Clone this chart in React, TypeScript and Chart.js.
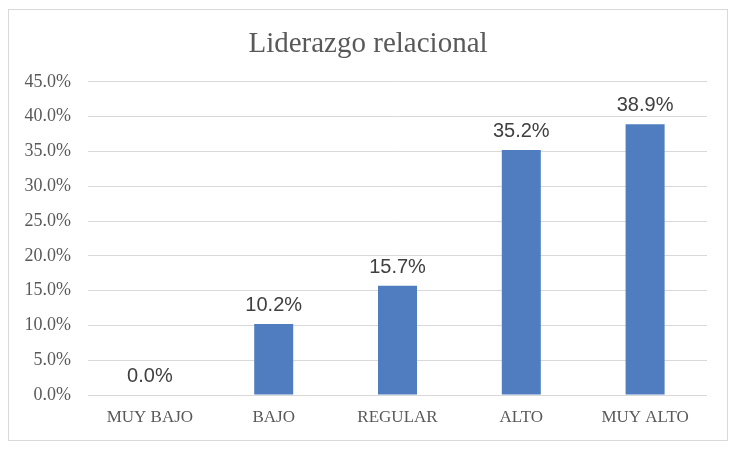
import React, { useEffect, useRef } from "react";
import { Chart, registerables } from "chart.js";

Chart.register(...registerables);

const categories = ["MUY BAJO", "BAJO", "REGULAR", "ALTO", "MUY ALTO"];
const values = [0.0, 10.2, 15.7, 35.2, 38.9];
const yMax = 45;
const yStep = 5;
const titleText = "Liderazgo relacional";

const dataLabelPlugin = {
  id: "dataLabels",
  afterDatasetsDraw(chart: any) {
    const ctx = chart.ctx;
    const meta = chart.getDatasetMeta(0);
    ctx.save();
    ctx.font = "20px 'Liberation Sans'";
    ctx.fillStyle = "#404040";
    ctx.textAlign = "center";
    ctx.textBaseline = "alphabetic";
    meta.data.forEach((bar: any, i: number) => {
      const v = chart.data.datasets[0].data[i] as number;
      ctx.fillText(v.toFixed(1) + "%", bar.x, bar.y - 13);
    });
    ctx.restore();
  },
};

export default function App() {
  const ref = useRef<HTMLCanvasElement | null>(null);
  useEffect(() => {
    if (!ref.current) return;
    const chart = new Chart(ref.current, {
      type: "bar",
      data: {
        labels: categories,
        datasets: [
          {
            data: values,
            backgroundColor: "#4f7dc0",
            borderWidth: 0,
            categoryPercentage: 1,
            barPercentage: 0.315,
          },
        ],
      },
      options: {
        animation: false,
        responsive: true,
        maintainAspectRatio: false,
        layout: { padding: 0 },
        plugins: {
          legend: { display: false },
          tooltip: { enabled: false },
          title: {
            display: true,
            text: titleText,
            color: "#595959",
            font: { family: "'Liberation Serif'", size: 29, weight: "normal" },
            padding: { top: 17, bottom: 20 },
          },
        },
        scales: {
          x: {
            grid: { display: false, drawTicks: false },
            border: { display: false },
            ticks: {
              color: "#595959",
              font: { family: "'Liberation Serif'", size: 17 },
              padding: 12,
              maxRotation: 0,
            },
            afterFit(scale: any) {
              scale.height = 45;
            },
          },
          y: {
            min: 0,
            max: yMax,
            grid: { color: "#d9d9d9", lineWidth: 1, drawTicks: false },
            border: { display: false },
            ticks: {
              stepSize: yStep,
              color: "#595959",
              font: { family: "'Liberation Serif'", size: 18 },
              padding: 17,
              callback: (v: any) => Number(v).toFixed(1) + "%",
            },
            afterFit(scale: any) {
              scale.width = 79;
            },
          },
          ySpacer: {
            position: "right",
            min: 0,
            max: yMax,
            grid: { display: false, drawTicks: false },
            border: { display: false },
            ticks: { display: false },
            afterFit(scale: any) {
              scale.width = 20;
            },
          },
        },
      },
      plugins: [dataLabelPlugin],
    });
    return () => chart.destroy();
  }, []);

  return (
    <div
      style={{
        position: "absolute",
        left: 0,
        top: 0,
        width: 740,
        height: 449,
        background: "#ffffff",
      }}
    >
      <div
        style={{
          position: "absolute",
          left: 8,
          top: 9,
          width: 718,
          height: 430,
          border: "1px solid #d9d9d9",
        }}
      >
        <canvas ref={ref} style={{ width: "718px", height: "430px" }} />
      </div>
    </div>
  );
}
